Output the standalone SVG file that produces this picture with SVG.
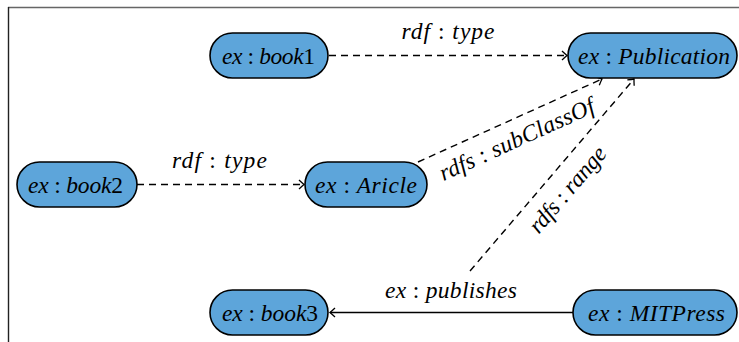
<svg xmlns="http://www.w3.org/2000/svg" width="739" height="342" viewBox="0 0 739 342">
<defs>
<style>
.node rect{fill:#5DA5DA;stroke:#000;stroke-width:1.6}
text{font-family:"Liberation Serif","DejaVu Serif",serif;font-size:23.5px;font-style:italic;fill:#000}
.up{font-style:normal}
.edge{fill:none;stroke:#000;stroke-width:1.4}
.dash{stroke-dasharray:7,5}
</style>
<marker id="arr" markerUnits="userSpaceOnUse" markerWidth="14" markerHeight="14" viewBox="-7 -7 14 14" refX="0" refY="0" orient="auto">
<path d="M-5,-4.5 Q-1.5,-1.2 0,0 Q-1.5,1.2 -5,4.5" fill="none" stroke="#000" stroke-width="1.3"/>
</marker>
</defs>
<rect width="739" height="342" fill="#fff"/>
<line x1="8" y1="7.5" x2="739" y2="7.5" stroke="#666" stroke-width="1.4"/>
<line x1="8.5" y1="7" x2="8.5" y2="342" stroke="#222" stroke-width="1.4"/>

<g id="connectors">
<path class="edge dash" d="M329,55.5 H567" marker-end="url(#arr)"/>
<path class="edge dash" d="M137,184.5 H304" marker-end="url(#arr)"/>
<path class="edge dash" d="M418,162 L602,79" marker-end="url(#arr)"/>
<path class="edge dash" d="M470,271 L634,79" marker-end="url(#arr)"/>
<path class="edge" d="M573,312.5 H330" marker-end="url(#arr)"/>
<text x="448" y="39" text-anchor="middle" textLength="93">rdf <tspan class="up">:</tspan> type</text>
<text x="219.5" y="168" text-anchor="middle" textLength="95">rdf <tspan class="up">:</tspan> type</text>
<text x="451" y="298" text-anchor="middle" textLength="132">ex <tspan class="up">:</tspan> publishes</text>
<text transform="translate(517,140) rotate(-24.5)" x="0" y="7" text-anchor="middle" textLength="168">rdfs <tspan class="up">:</tspan> subClassOf</text>
<text transform="translate(568,190) rotate(-49.4)" x="0" y="7" text-anchor="middle" textLength="106">rdfs <tspan class="up">:</tspan> range</text>
</g>

<g id="book1" class="node">
<rect x="210" y="33" width="118" height="45" rx="22.5"/>
<text x="268.5" y="63.5" text-anchor="middle" textLength="93">ex <tspan class="up">:</tspan> book<tspan class="up">1</tspan></text>
</g>
<g id="publication" class="node">
<rect x="568" y="33" width="169" height="45" rx="22.5"/>
<text x="654" y="63.5" text-anchor="middle" textLength="152">ex <tspan class="up">:</tspan> Publication</text>
</g>
<g id="book2" class="node">
<rect x="17" y="162" width="120" height="45" rx="22.5"/>
<text x="75.5" y="192.5" text-anchor="middle" textLength="95">ex <tspan class="up">:</tspan> book<tspan class="up">2</tspan></text>
</g>
<g id="aricle" class="node">
<rect x="305" y="162" width="122" height="45" rx="22.5"/>
<text x="366" y="192.5" text-anchor="middle" textLength="102">ex <tspan class="up">:</tspan> Aricle</text>
</g>
<g id="book3" class="node">
<rect x="210" y="290" width="118" height="45" rx="22.5"/>
<text x="270" y="320.5" text-anchor="middle" textLength="96">ex <tspan class="up">:</tspan> book<tspan class="up">3</tspan></text>
</g>
<g id="mitpress" class="node">
<rect x="573" y="290" width="164" height="45" rx="22.5"/>
<text x="656.5" y="320.5" text-anchor="middle" textLength="137">ex <tspan class="up">:</tspan> MITPress</text>
</g>
</svg>
